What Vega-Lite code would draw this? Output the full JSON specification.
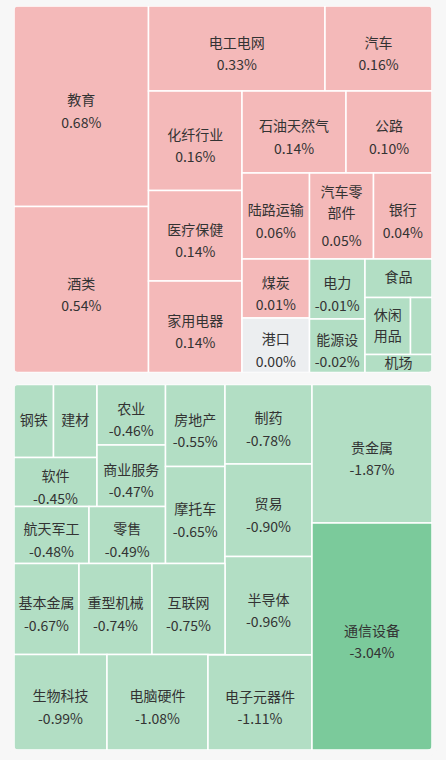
{
  "$schema": "https://vega.github.io/schema/vega-lite/v6.json",
  "width": 446,
  "height": 760,
  "padding": 0,
  "autosize": {"type": "none"},
  "background": "#f7f7f7",
  "config": {
    "view": {"stroke": null},
    "locale": {"number": {"decimal": ".", "thousands": ",", "grouping": [3], "currency": ["", ""], "minus": "-"}},
    "text": {"font": "Noto Sans CJK SC", "fontSize": 14, "fill": "#333333", "baseline": "middle", "lineBreak": "\n", "lineHeight": 20.5}
  },
  "datasets": {
    "cells": [
      {"name": "教育", "chg": 0.0068, "x0": 14, "x1": 148.5, "y0": 6, "y1": 206.5},
      {"name": "酒类", "chg": 0.0054, "x0": 14, "x1": 148.5, "y0": 206.5, "y1": 372.5},
      {"name": "电工电网", "chg": 0.0033, "x0": 148.5, "x1": 325, "y0": 6, "y1": 91},
      {"name": "汽车", "chg": 0.0016, "x0": 325, "x1": 432, "y0": 6, "y1": 91},
      {"name": "化纤行业", "chg": 0.0016, "x0": 148.5, "x1": 242, "y0": 91, "y1": 190.5},
      {"name": "医疗保健", "chg": 0.0014, "x0": 148.5, "x1": 242, "y0": 190.5, "y1": 281},
      {"name": "家用电器", "chg": 0.0014, "x0": 148.5, "x1": 242, "y0": 281, "y1": 372.5},
      {"name": "石油天然气", "chg": 0.0014, "x0": 242, "x1": 346, "y0": 91, "y1": 173},
      {"name": "公路", "chg": 0.0010, "x0": 346, "x1": 432, "y0": 91, "y1": 173},
      {"name": "陆路运输", "chg": 0.0006, "x0": 242, "x1": 309.5, "y0": 173, "y1": 259},
      {"name": "汽车零\n部件", "chg": 0.0005, "x0": 309.5, "x1": 373.5, "y0": 173, "y1": 259},
      {"name": "银行", "chg": 0.0004, "x0": 373.5, "x1": 432, "y0": 173, "y1": 259},
      {"name": "煤炭", "chg": 0.0001, "x0": 242, "x1": 309.5, "y0": 259, "y1": 318},
      {"name": "港口", "chg": 0.0, "x0": 242, "x1": 309.5, "y0": 318, "y1": 372.5},
      {"name": "电力", "chg": -0.0001, "x0": 309.5, "x1": 365, "y0": 259, "y1": 319},
      {"name": "能源设", "chg": -0.0002, "x0": 309.5, "x1": 365, "y0": 319, "y1": 372.5},
      {"name": "食品", "chg": -0.0003, "x0": 365, "x1": 432, "y0": 259, "y1": 297.5},
      {"name": "休闲\n用品", "chg": -0.0005, "x0": 365, "x1": 410.5, "y0": 297.5, "y1": 354.5},
      {"name": "", "chg": -0.0006, "x0": 410.5, "x1": 432, "y0": 297.5, "y1": 354.5},
      {"name": "机场", "chg": -0.0008, "x0": 365, "x1": 432, "y0": 354.5, "y1": 372.5},
      {"name": "钢铁", "chg": -0.0042, "x0": 14, "x1": 53.5, "y0": 384.5, "y1": 457.5},
      {"name": "建材", "chg": -0.0044, "x0": 53.5, "x1": 97, "y0": 384.5, "y1": 457.5},
      {"name": "软件", "chg": -0.0045, "x0": 14, "x1": 97, "y0": 457.5, "y1": 506.5},
      {"name": "农业", "chg": -0.0046, "x0": 97, "x1": 165.5, "y0": 384.5, "y1": 445},
      {"name": "商业服务", "chg": -0.0047, "x0": 97, "x1": 165.5, "y0": 445, "y1": 506.5},
      {"name": "航天军工", "chg": -0.0048, "x0": 14, "x1": 89, "y0": 506.5, "y1": 563.5},
      {"name": "零售", "chg": -0.0049, "x0": 89, "x1": 165.5, "y0": 506.5, "y1": 563.5},
      {"name": "房地产", "chg": -0.0055, "x0": 165.5, "x1": 225, "y0": 384.5, "y1": 466.5},
      {"name": "摩托车", "chg": -0.0065, "x0": 165.5, "x1": 225, "y0": 466.5, "y1": 563.5},
      {"name": "制药", "chg": -0.0078, "x0": 225, "x1": 312, "y0": 384.5, "y1": 464},
      {"name": "贸易", "chg": -0.0090, "x0": 225, "x1": 312, "y0": 464, "y1": 556.5},
      {"name": "半导体", "chg": -0.0096, "x0": 225, "x1": 312, "y0": 556.5, "y1": 655},
      {"name": "基本金属", "chg": -0.0067, "x0": 14, "x1": 79, "y0": 563.5, "y1": 654.5},
      {"name": "重型机械", "chg": -0.0074, "x0": 79, "x1": 152, "y0": 563.5, "y1": 654.5},
      {"name": "互联网", "chg": -0.0075, "x0": 152, "x1": 225, "y0": 563.5, "y1": 654.5},
      {"name": "生物科技", "chg": -0.0099, "x0": 14, "x1": 107, "y0": 654.5, "y1": 750},
      {"name": "电脑硬件", "chg": -0.0108, "x0": 107, "x1": 208, "y0": 654.5, "y1": 750},
      {"name": "电子元器件", "chg": -0.0111, "x0": 208, "x1": 312, "y0": 655, "y1": 750},
      {"name": "贵金属", "chg": -0.0187, "x0": 312, "x1": 432, "y0": 384.5, "y1": 523},
      {"name": "通信设备", "chg": -0.0304, "x0": 312, "x1": 432, "y0": 523, "y1": 750}
    ],
    "panels": [
      {"panel": "上涨", "x0": 11, "x1": 435, "y0": 3, "y1": 375.5},
      {"panel": "下跌", "x0": 11, "x1": 435, "y0": 381.5, "y1": 753}
    ]
  },
  "data": {"name": "cells"},
  "layer": [
    {
      "mark": {"type": "rect", "stroke": "#ffffff", "strokeWidth": 1.5},
      "encoding": {
        "x": {"field": "x0", "type": "quantitative", "scale": {"domain": [0, 446], "nice": false, "zero": false}, "axis": null},
        "x2": {"field": "x1"},
        "y": {"field": "y0", "type": "quantitative", "scale": {"domain": [0, 760], "nice": false, "zero": false, "reverse": true}, "axis": null},
        "y2": {"field": "y1"},
        "color": {
          "field": "chg",
          "type": "quantitative",
          "scale": {"type": "threshold", "domain": [-0.02, 0, 0.00005], "range": ["#7bca9b", "#b2dec4", "#eceef0", "#f4b9b9"]},
          "legend": null
        }
      }
    },
    {
      "data": {"name": "panels"},
      "mark": {"type": "rect", "fill": null, "filled": false, "stroke": "#f7f7f7", "strokeWidth": 6, "cornerRadius": 8},
      "encoding": {
        "x": {"field": "x0", "type": "quantitative", "scale": {"domain": [0, 446], "nice": false, "zero": false}, "axis": null},
        "x2": {"field": "x1"},
        "y": {"field": "y0", "type": "quantitative", "scale": {"domain": [0, 760], "nice": false, "zero": false, "reverse": true}, "axis": null},
        "y2": {"field": "y1"}
      }
    },
    {
      "transform": [
        {"filter": "datum.x1 - datum.x0 >= 50 && datum.y1 - datum.y0 >= 45 && indexof(datum.name, '\\n') < 0"},
        {"calculate": "(datum.x0 + datum.x1) / 2", "as": "cx"},
        {"calculate": "(datum.y0 + datum.y1) / 2", "as": "cy"}
      ],
      "layer": [
        {"mark": {"type": "text", "dy": -5}, "encoding": {"text": {"field": "name", "type": "nominal"}}},
        {"mark": {"type": "text", "dy": 17.5}, "encoding": {"text": {"field": "chg", "type": "quantitative", "format": ".2%"}}}
      ],
      "encoding": {
        "x": {"field": "cx", "type": "quantitative", "scale": {"domain": [0, 446], "nice": false, "zero": false}, "axis": null},
        "y": {"field": "cy", "type": "quantitative", "scale": {"domain": [0, 760], "nice": false, "zero": false, "reverse": true}, "axis": null}
      }
    },
    {
      "transform": [
        {"filter": "datum.x1 - datum.x0 >= 50 && datum.y1 - datum.y0 >= 45 && indexof(datum.name, '\\n') >= 0"},
        {"calculate": "(datum.x0 + datum.x1) / 2", "as": "cx"},
        {"calculate": "(datum.y0 + datum.y1) / 2", "as": "cy"}
      ],
      "layer": [
        {"mark": {"type": "text", "dy": -23}, "encoding": {"text": {"field": "name", "type": "nominal"}}},
        {"mark": {"type": "text", "dy": 26}, "encoding": {"text": {"field": "chg", "type": "quantitative", "format": ".2%"}}}
      ],
      "encoding": {
        "x": {"field": "cx", "type": "quantitative", "scale": {"domain": [0, 446], "nice": false, "zero": false}, "axis": null},
        "y": {"field": "cy", "type": "quantitative", "scale": {"domain": [0, 760], "nice": false, "zero": false, "reverse": true}, "axis": null}
      }
    },
    {
      "transform": [
        {"filter": "!(datum.x1 - datum.x0 >= 50 && datum.y1 - datum.y0 >= 45) && datum.x1 - datum.x0 >= 30"},
        {"calculate": "(datum.x0 + datum.x1) / 2", "as": "cx"},
        {"calculate": "(datum.y0 + datum.y1) / 2", "as": "cy"}
      ],
      "layer": [
        {"transform": [{"filter": "indexof(datum.name, '\\n') < 0"}], "mark": {"type": "text"}, "encoding": {"text": {"field": "name", "type": "nominal"}}},
        {"transform": [{"filter": "indexof(datum.name, '\\n') >= 0"}], "mark": {"type": "text", "dy": -10}, "encoding": {"text": {"field": "name", "type": "nominal"}}}
      ],
      "encoding": {
        "x": {"field": "cx", "type": "quantitative", "scale": {"domain": [0, 446], "nice": false, "zero": false}, "axis": null},
        "y": {"field": "cy", "type": "quantitative", "scale": {"domain": [0, 760], "nice": false, "zero": false, "reverse": true}, "axis": null}
      }
    }
  ]
}
